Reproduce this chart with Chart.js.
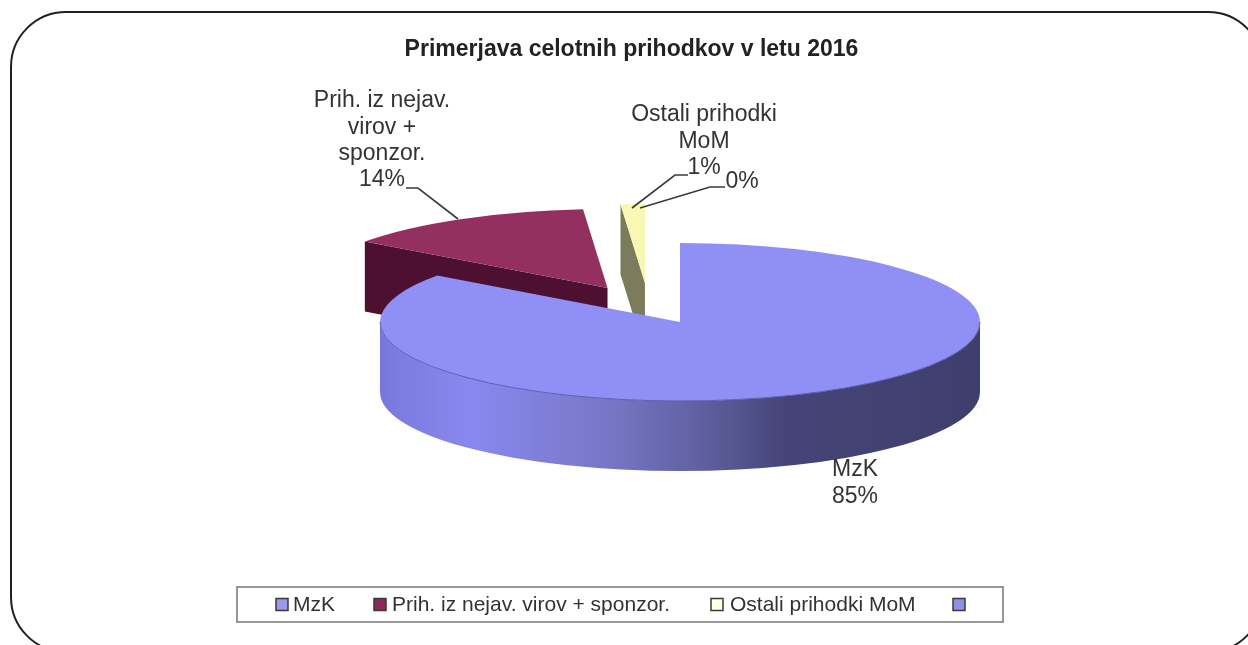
<!DOCTYPE html>
<html>
<head>
<meta charset="utf-8">
<style>
html,body{margin:0;padding:0;background:#fff;overflow:hidden;width:1248px;height:645px}
#wrap{position:relative;width:1248px;height:645px;overflow:hidden}
#c{position:absolute;left:0;top:0;filter:blur(0.7px)}
#frame{position:absolute;left:10px;top:11px;width:1250px;height:638px;border:2.5px solid #231f20;border-radius:56px;box-sizing:content-box;pointer-events:none}
</style>
<script src="https://cdn.jsdelivr.net/npm/chart.js@4"></script>
</head>
<body>
<div id="wrap"><canvas id="c" width="1248" height="645"></canvas><div id="frame"></div></div>
<script>
const titleText = "Primerjava celotnih prihodkov v letu 2016";
const categories = ["MzK", "Prih. iz nejav. virov + sponzor.", "Ostali prihodki MoM", ""];
const values = [85, 13.7, 1.3, 0];
const labelLines = [["MzK"], ["Prih. iz nejav.", "virov +", "sponzor."], ["Ostali prihodki", "MoM"], []];
const topColors = ["#8f8ff5", "#94305f", "#f8f8b4", "#8f8ff5"];
const sideColors = ["#7a7ad8", "#4d1030", "#7c7c5c", "#7a7ad8"];
const legendColors = ["#9999ee", "#8a2a55", "#ffffe6", "#8f8fe8"];
const explode = [0, 0.493, 0.493, 0.493];
const drawOrder = [1, 2, 3, 0];

// layout of the squashed pie on the page
const CX = 680, CY = 322, RX = 300, RY = 79, DEPTH = 70;
const nudgeX = [0, 0, -29, 0];
const FONT = "'Liberation Sans', Arial, sans-serif";

const total = values.reduce((a, b) => a + b, 0);
const pct = i => Math.round(values[i] / total * 100) + "%";

function slicePath(ctx, cx, cy, a0, a1) {
  ctx.beginPath();
  ctx.ellipse(cx, cy, RX, RY, 0, a0, a1, false);
  ctx.ellipse(cx, cy + DEPTH, RX, RY, 0, a1, a0, true);
  ctx.closePath();
}
function cutFace(ctx, cx, cy, a, color) {
  const px = cx + RX * Math.cos(a), py = cy + RY * Math.sin(a);
  ctx.beginPath();
  ctx.moveTo(cx, cy);
  ctx.lineTo(px, py);
  ctx.lineTo(px, py + DEPTH);
  ctx.lineTo(cx, cy + DEPTH);
  ctx.closePath();
  ctx.fillStyle = color;
  ctx.fill();
}

const pie3d = {
  id: "pie3d",
  beforeDatasetDraw(chart, args) {
    const ctx = chart.ctx;
    const arcs = chart.getDatasetMeta(args.index).data;
    drawOrder.forEach(i => {
      const el = arcs[i];
      if (!el || !(el.circumference > 0)) return;
      const a0 = el.startAngle, a1 = el.endAngle, mid = (a0 + a1) / 2;
      const cx = CX + RX * explode[i] * Math.cos(mid) + nudgeX[i];
      const cy = CY + RY * explode[i] * Math.sin(mid);
      ctx.save();
      if (Math.cos(a0) < -1e-6) cutFace(ctx, cx, cy, a0, sideColors[i]);
      if (Math.cos(a1) > 1e-6) cutFace(ctx, cx, cy, a1, sideColors[i]);
      const lo = Math.max(a0, 0), hi = Math.min(a1, Math.PI);
      if (lo < hi) {
        const g = ctx.createLinearGradient(cx - RX, 0, cx + RX, 0);
        g.addColorStop(0, "#7878dc");
        g.addColorStop(0.15, "#8888f0");
        g.addColorStop(0.37, "#7878c8");
        g.addColorStop(0.54, "#5f5f9f");
        g.addColorStop(0.68, "#444478");
        g.addColorStop(1, "#3f3f6e");
        slicePath(ctx, cx, cy, lo, hi);
        ctx.fillStyle = i === 0 ? g : sideColors[i];
        ctx.fill();
      }
      ctx.translate(cx, cy);
      ctx.scale(RX / el.outerRadius, RY / el.outerRadius);
      ctx.translate(-el.x, -el.y);
      el.draw(ctx);
      ctx.restore();
      if (lo < hi) {
        ctx.beginPath();
        ctx.ellipse(cx, cy, RX, RY, 0, lo, hi, false);
        ctx.strokeStyle = "#5c5cb4";
        ctx.lineWidth = 1;
        ctx.stroke();
      }
    });
    return false;
  },
  afterDraw(chart) {
    const ctx = chart.ctx;
    ctx.save();
    // data labels and leader lines
    ctx.fillStyle = "#333";
    ctx.font = "23px " + FONT;
    ctx.textAlign = "center";
    ctx.textBaseline = "middle";
    const block = (lines, x, y) => lines.forEach((t, k) => ctx.fillText(t, x, y + k * 26.2));
    block([...labelLines[0], pct(0)], 855, 470);
    block([...labelLines[1], pct(1)], 382, 101);
    block([...labelLines[2], pct(2)], 704, 115);
    block([pct(3)], 742, 182);
    ctx.strokeStyle = "#3a3a3a";
    ctx.lineWidth = 1.6;
    [[[458, 219], [418, 188], [406, 188]],
     [[632, 208], [675, 175], [688, 175]],
     [[640, 208], [710, 187], [725, 187]]].forEach(p => {
      ctx.beginPath();
      p.forEach((q, k) => k ? ctx.lineTo(q[0], q[1]) : ctx.moveTo(q[0], q[1]));
      ctx.stroke();
    });
    // legend
    ctx.strokeStyle = "#777";
    ctx.lineWidth = 1.5;
    ctx.strokeRect(237, 587, 766, 35);
    ctx.font = "21px " + FONT;
    ctx.textAlign = "left";
    const swatchX = [276, 374, 711, 953], textX = [293, 392, 730, 970];
    categories.forEach((name, i) => {
      ctx.fillStyle = legendColors[i];
      ctx.fillRect(swatchX[i], 598.5, 12, 12);
      ctx.strokeStyle = "#3a3a3a";
      ctx.lineWidth = 1.5;
      ctx.strokeRect(swatchX[i], 598.5, 12, 12);
      ctx.fillStyle = "#333";
      ctx.fillText(name, textX[i], 605.5);
    });
    ctx.restore();
  }
};

new Chart(document.getElementById("c"), {
  type: "pie",
  data: {
    labels: categories,
    datasets: [{ data: values, backgroundColor: topColors, borderWidth: 0, hoverOffset: 0 }]
  },
  options: {
    responsive: false,
    animation: false,
    layout: { padding: { left: 15, top: 0, right: 0, bottom: 60 } },
    plugins: {
      legend: { display: false },
      tooltip: { enabled: false },
      title: {
        display: true,
        text: titleText,
        color: "#222",
        font: { family: FONT, size: 23, weight: "bold" },
        padding: { top: 36, bottom: 20 }
      }
    }
  },
  plugins: [pie3d]
});
</script>
</body>
</html>
